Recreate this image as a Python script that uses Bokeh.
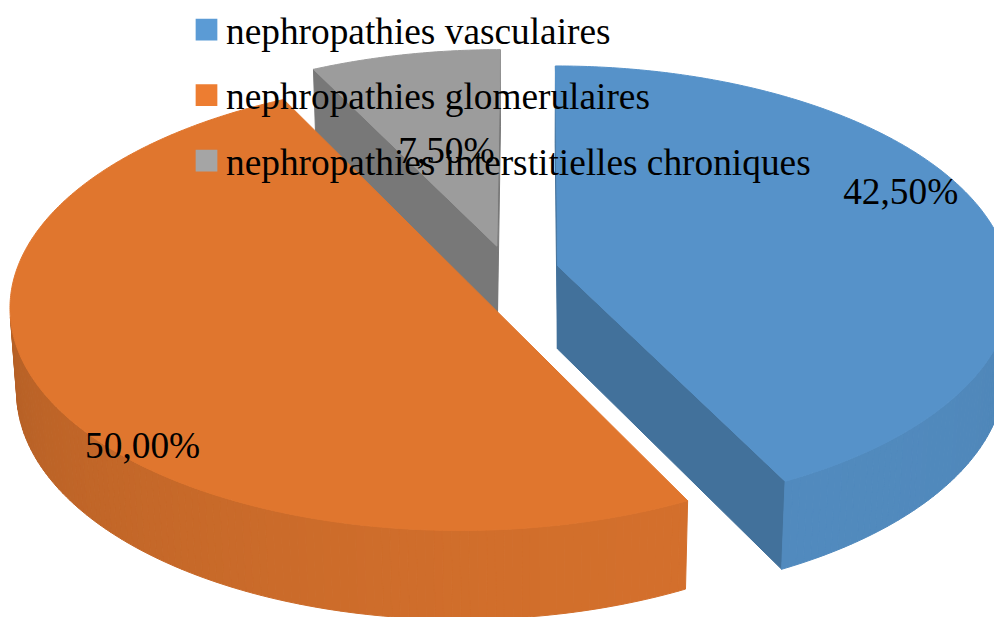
import numpy as np
from bokeh.plotting import figure
from bokeh.models import Range1d, ColumnDataSource
from bokeh.embed import file_html
from bokeh.resources import INLINE
from bokeh.core.properties import value

# ---------------- data ----------------
categories = ["nephropathies vasculaires", "nephropathies glomerulaires",
              "nephropathies interstitielles chroniques"]
values = [42.5, 50.0, 7.5]
pct_labels = ["42,50%", "50,00%", "7,50%"]
base_colors = ["#5B9BD5", "#ED7D31", "#A5A5A5"]

# ---------------- 3D view / layout (pixels, unit radius) ----------------
PHI = np.radians(30.514)   # tilt
DIST = 8.639               # camera distance (radius units)
FOC = 3857.4               # focal scale (px)
X0, Y0 = 532.3, 354.1      # projection origin (px)
CAMX = 0.0525
THICK = 0.2131             # slice thickness (radius units)
EXPLODE = [0.1108, 0.1027, 0.1197]
LABEL_R = [0.839, 0.974, 0.425]
LABEL_DA = [-7.2, -21.0, -3.0]
TEXT_DY = -11.0            # baseline correction for the svg text

total = float(sum(values))
starts, ends = [], []
acc = 0.0
for v in values:
    starts.append(acc / total * 360.0)
    acc += v
    ends.append(acc / total * 360.0)
mids = [(a + b) / 2 for a, b in zip(starts, ends)]

s, c = np.sin(PHI), np.cos(PHI)
cam = np.array([CAMX, -DIST * c, DIST * s])


def proj(x, y, z):
    x = np.asarray(x, float); y = np.asarray(y, float); z = np.asarray(z, float)
    Zc = DIST + y * c - z * s
    return X0 + FOC * (x - CAMX) / Zc, Y0 - FOC * (y * s + z * c) / Zc


def shade(hexc, f):
    hexc = hexc.lstrip("#")
    rgb = [int(hexc[i:i + 2], 16) for i in (0, 2, 4)]
    return "#%02x%02x%02x" % tuple(max(0, min(255, int(round(v * f)))) for v in rgb)


h = THICK
xs, ys, cols = [], [], []
centers = []
for k in range(3):
    m = np.radians(mids[k])
    centers.append((EXPLODE[k] * np.sin(m), EXPLODE[k] * np.cos(m)))

order = sorted(range(3), key=lambda k: -centers[k][1])   # back to front
for k in order:
    cx, cy = centers[k]
    a0, a1 = starts[k], ends[k]
    base = base_colors[k]
    # radial cut faces
    for ang, nang in ((a0, a0 - 90), (a1, a1 + 90)):
        t = np.radians(ang)
        n = np.array([np.sin(np.radians(nang)), np.cos(np.radians(nang)), 0.0])
        pm = np.array([cx + 0.5 * np.sin(t), cy + 0.5 * np.cos(t), h / 2])
        if np.dot(n, cam - pm) > 0:
            X = [cx, cx, cx + np.sin(t), cx + np.sin(t)]
            Y = [cy, cy, cy + np.cos(t), cy + np.cos(t)]
            Z = [0, h, h, 0]
            sx, sy = proj(X, Y, Z)
            xs.append(list(sx)); ys.append(list(sy)); cols.append(shade(base, 0.73))
    # curved outer side
    nseg = max(2, int(np.ceil(a1 - a0)))
    th = np.linspace(a0, a1, nseg + 1)
    for i in range(nseg):
        tm = np.radians((th[i] + th[i + 1]) / 2)
        n = np.array([np.sin(tm), np.cos(tm), 0.0])
        pm = np.array([cx + np.sin(tm), cy + np.cos(tm), h / 2])
        if np.dot(n, cam - pm) > 0:
            t2 = np.radians([th[i], th[i + 1], th[i + 1], th[i]])
            sx, sy = proj(cx + np.sin(t2), cy + np.cos(t2), [h, h, 0, 0])
            f = 0.80 + 0.09 * np.cos(tm - np.radians(150))
            xs.append(list(sx)); ys.append(list(sy)); cols.append(shade(base, f))
    # top
    tt = np.radians(np.linspace(a0, a1, nseg * 2 + 1))
    X = np.concatenate([[cx], cx + np.sin(tt)])
    Y = np.concatenate([[cy], cy + np.cos(tt)])
    sx, sy = proj(X, Y, np.full(X.shape, h))
    xs.append(list(sx)); ys.append(list(sy)); cols.append(shade(base, 0.945))

W, H = 994, 617
p = figure(width=W, height=H, x_range=Range1d(0, W), y_range=Range1d(H, 0),
           output_backend="svg", toolbar_location=None, min_border=0)
p.axis.visible = False
p.grid.visible = False
p.outline_line_color = None
p.background_fill_color = "white"
p.border_fill_color = "white"
p.patches("xs", "ys", source=ColumnDataSource(dict(xs=xs, ys=ys, c=cols)),
          fill_color="c", line_color="c", line_width=1)

FONT = value("Liberation Serif")
FSIZE = "37.33px"

# data labels
lx, ly = [], []
for k in range(3):
    cx, cy = centers[k]
    a = np.radians(mids[k] + LABEL_DA[k])
    sx, sy = proj([cx + LABEL_R[k] * np.sin(a)], [cy + LABEL_R[k] * np.cos(a)], [h])
    lx.append(float(sx[0])); ly.append(float(sy[0]) + TEXT_DY)
p.text(x=lx, y=ly, text=pct_labels, text_font=FONT, text_font_size=FSIZE,
       text_color="black", text_align="center", text_baseline="alphabetic")

# legend
LEG_SQ_X, LEG_SQ_Y0, LEG_SQ = 206.0, 29.2, 21.7
LEG_TX, LEG_TY0, LEG_DY = 225.5, 41.7, 65.5
p.rect(x=[LEG_SQ_X] * 3, y=[LEG_SQ_Y0 + i * LEG_DY for i in range(3)],
       width=LEG_SQ, height=LEG_SQ, fill_color=base_colors, line_color=None)
p.text(x=[LEG_TX] * 3, y=[LEG_TY0 + TEXT_DY + i * LEG_DY for i in range(3)], text=categories,
       text_font=FONT, text_font_size=FSIZE, text_color="black",
       text_align="left", text_baseline="alphabetic")

outf = open("out.html", "w")
outf.write(file_html(p, INLINE))
outf.close()
